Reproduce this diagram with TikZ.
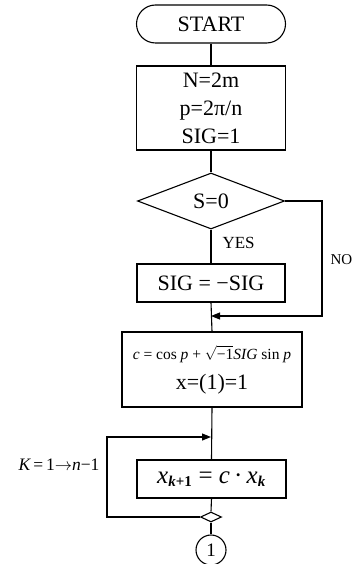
\documentclass[tikz,border=0pt]{standalone}
\usepackage{fontspec}
\setmainfont{Liberation Serif}
\usetikzlibrary{shapes.misc,shapes.geometric,arrows.meta}
\begin{document}
\begin{tikzpicture}[x=1pt,y=-1pt,
  line width=1.1pt,
  box/.style={draw,rectangle,inner sep=0pt,align=center},
  lbl/.style={inner sep=0pt},
  tip/.style={-{Triangle[length=9pt,width=7pt]}},
  every node/.style={font=\fontsize{22}{28}\selectfont}]
\useasboundingbox (0,0) rectangle (355,564);
\node[draw,rounded rectangle,minimum width=149pt,minimum height=38pt,inner sep=0pt] (start) at (211,24) {START};
\node[box,minimum width=149pt,minimum height=84pt] (init) at (211,108) {N=2m\\p=2π/n\\SIG=1};
\node[draw,diamond,minimum width=147pt,minimum height=56pt,inner sep=0pt] (dec) at (211,201) {S=0};
\node[box,minimum width=148pt,minimum height=38pt] (neg) at (211,283) {SIG = −SIG};
\coordinate (merge) at (211,316);
\node[box,minimum width=180pt,minimum height=75pt] (calc) at (212,369.5) {};
\node[lbl,font=\fontsize{15.5}{18}\selectfont] (form) at (212,354) {\itshape c\upshape\ = cos \itshape p\upshape\ + $\sqrt{\mbox{\upshape −1}}$\itshape SIG\upshape\ sin \itshape p};
\node[lbl] (xinit) at (212,384) {x=(1)=1};
\coordinate (ltop) at (211,437);
\node[box,minimum width=149pt,minimum height=38pt,font=\fontsize{25}{30}\selectfont] (iter) at (211.5,479) {\itshape x\textsubscript{\fontsize{15}{15}\selectfont\bfseries\itshape k\upshape+1} \upshape=\ \itshape c\upshape\,·\,\itshape x\textsubscript{\fontsize{15}{15}\selectfont\bfseries\itshape k}};
\node[draw,diamond,minimum width=21pt,minimum height=10pt,inner sep=0pt] (sd) at (211,517) {};
\node[draw,circle,minimum size=30pt,inner sep=0pt,font=\fontsize{19}{20}\selectfont] (c1) at (211,550) {1};
\coordinate (rc1) at (322,201);
\coordinate (rc2) at (322,316);
\coordinate (lc1) at (107,517);
\coordinate (lc2) at (107,437);
\draw (start.south) -- (init.north);
\draw (init.south) -- (dec.north);
\draw (dec.south) -- (neg.north);
\draw (neg.south) -- (calc.north);
\draw[tip] (dec.east) -- (rc1) -- (rc2) -- (merge);
\draw (calc.south) -- (iter.north);
\draw[tip] (sd.west) -- (lc1) -- (lc2) -- (ltop);
\draw (iter.south) -- (sd.north);
\draw (sd.south) -- (c1.north);
\node[lbl,font=\fontsize{17}{20}\selectfont,anchor=west] (yes) at (222,243) {YES};
\node[lbl,font=\fontsize{15}{20}\selectfont,anchor=west] (no) at (330,260) {NO};
\node[lbl,font=\fontsize{17.5}{20}\selectfont,anchor=east] (kl) at (100,465) {\itshape K\upshape\,=\,1$\rightarrow$\itshape n\upshape−1};
\end{tikzpicture}
\end{document}
